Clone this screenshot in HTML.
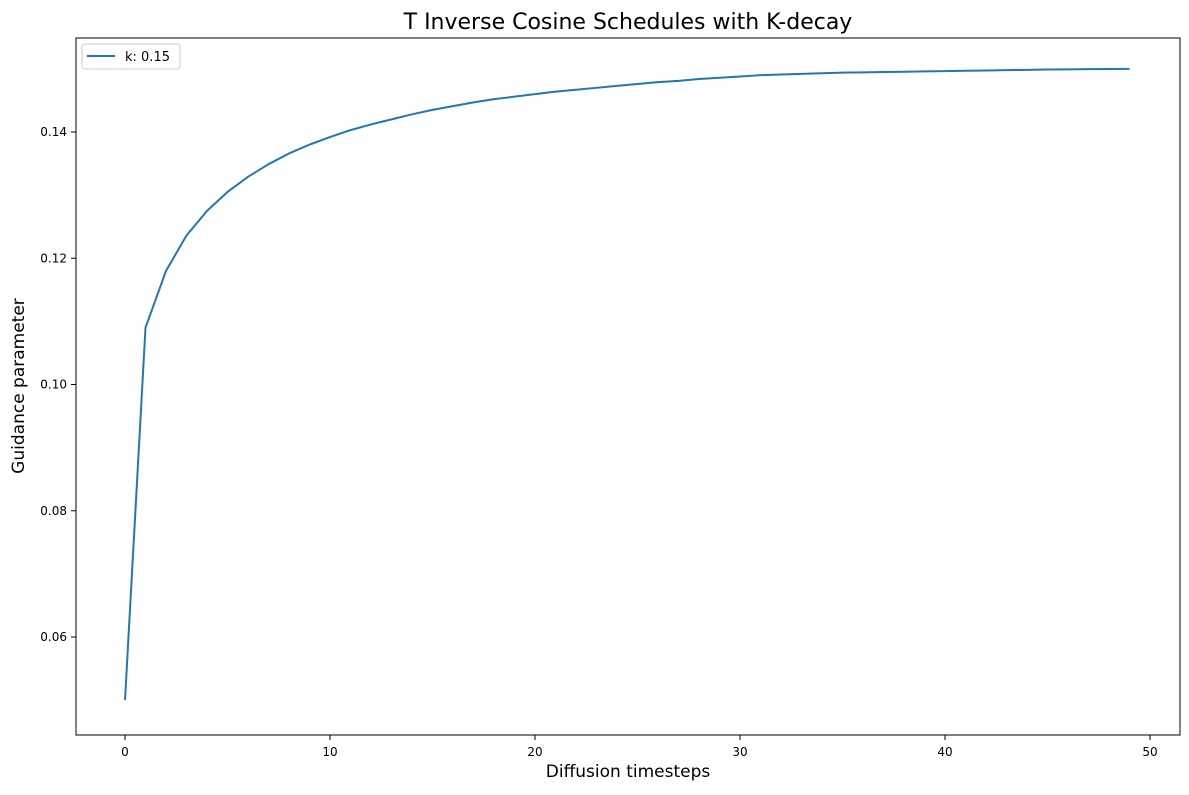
<!DOCTYPE html>
<html><head><meta charset="utf-8"><style>body{margin:0;background:#fff}svg text{font-family:"DejaVu Sans","Liberation Sans",sans-serif}</style></head>
<body>
<svg id="c" width="1189" height="790">
<text x="628" y="29" text-anchor="middle" font-size="22">T Inverse Cosine Schedules with K-decay</text>
<text x="628" y="777" text-anchor="middle" font-size="17">Diffusion timesteps</text>
<text transform="translate(24,386) rotate(-90)" text-anchor="middle" font-size="17">Guidance parameter</text>
<g id="ax"></g>
<rect x="76" y="38" width="1104" height="697" fill="none" stroke="#000" stroke-width="1"/>
<g>
<rect x="82" y="44" width="98" height="25" rx="3" fill="#fff" stroke="#ccc"/>
<line x1="87" y1="56" x2="115" y2="56" stroke="#1f77b4" stroke-width="2"/>
<text x="125" y="61" font-size="13">k: 0.15</text>
</g>
</svg>
<script>
const xTicks=[0,10,20,30,40,50];
const yTicks=[0.06,0.08,0.10,0.12,0.14];
const yTickLabels=["0.06","0.08","0.10","0.12","0.14"];
const values=[0.05,0.109,0.118,0.1236,0.1275,0.1305,0.1329,0.1349,0.1366,0.138,0.1392,0.1403,0.1412,0.142,0.1428,0.1435,0.1441,0.1447,0.1452,0.1456,0.146,0.1464,0.1467,0.147,0.1473,0.1476,0.1479,0.1481,0.1484,0.1486,0.1488,0.149,0.1491,0.1492,0.1493,0.1494,0.14945,0.1495,0.14955,0.1496,0.14965,0.1497,0.14975,0.1498,0.14985,0.1499,0.14993,0.14996,0.14998,0.15];
const X=t=>125+20.5*t;
const Y=v=>637-(v-0.06)*6312.5;
const ns="http://www.w3.org/2000/svg";
const ax=document.getElementById('ax');
function mk(tag,attrs){const e=document.createElementNS(ns,tag);for(const k in attrs)e.setAttribute(k,attrs[k]);ax.appendChild(e);return e;}
xTicks.forEach(t=>{
 const l=mk('line',{x1:X(t),x2:X(t),y1:735,y2:740,stroke:'#000'});
 
 
 const tx=mk('text',{x:X(t),y:756,'text-anchor':'middle','font-size':12});
 tx.textContent=t;
 
 
});
yTicks.forEach((v,i)=>{
 const l=mk('line',{x1:71,x2:76,y1:Y(v),y2:Y(v),stroke:'#000'});
 
 
 const tx=mk('text',{x:67,y:Y(v)+4,'text-anchor':'end','font-size':12});
 tx.textContent=yTickLabels[i];
 
 
});
const p=mk('polyline',{points:values.map((v,i)=>X(i)+','+Y(v)).join(' '),fill:'none',stroke:'#1f77b4','stroke-width':2,'stroke-linejoin':'round'});


</script>
</body></html>
